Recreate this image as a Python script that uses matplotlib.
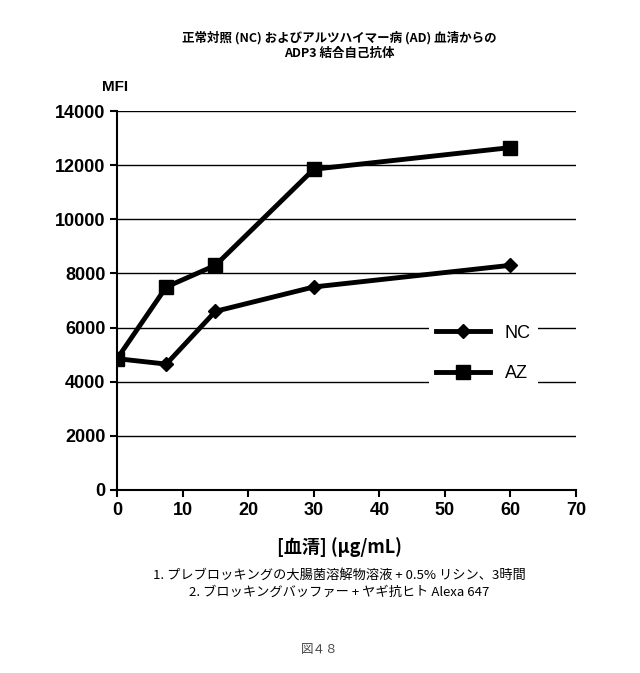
import matplotlib
matplotlib.use("Agg")
import matplotlib.pyplot as plt

plt.rcParams['font.family'] = ['Noto Sans CJK JP']
x = [0, 7.5, 15, 30, 60]
nc = [4850, 4650, 6600, 7500, 8300]
az = [4850, 7500, 8300, 11850, 12650]
yticks = list(range(0, 14001, 2000))
xticks = list(range(0, 71, 10))

fig = plt.figure(figsize=(6.4, 6.73), dpi=100)
ax = fig.add_axes([0.183, 0.272, 0.717, 0.563])
for t in yticks[1:]:
    ax.axhline(t, color='black', lw=1, zorder=0)
ax.plot(x, nc, color='black', lw=3.5, marker='D', ms=7, label='NC')
ax.plot(x, az, color='black', lw=3.5, marker='s', ms=10, label='AZ')
ax.set_xlim(0, 70); ax.set_ylim(0, 14000)
ax.set_xticks(xticks); ax.set_yticks(yticks)
ax.tick_params(labelsize=13, width=1.5, length=5)
for lab in ax.get_xticklabels() + ax.get_yticklabels():
    lab.set_fontfamily('Liberation Sans'); lab.set_fontweight('bold')
for s in ['top', 'right']:
    ax.spines[s].set_visible(False)
ax.spines['left'].set_linewidth(1.5); ax.spines['bottom'].set_linewidth(1.5)
leg = ax.legend(loc='center left', bbox_to_anchor=(0.66, 0.36), frameon=True,
                edgecolor='none', facecolor='white', framealpha=1,
                handlelength=3, labelspacing=1.3,
                prop={'family': 'Liberation Sans', 'size': 13})
fig.text(0.16, 0.865, 'MFI', fontsize=11, fontweight='bold', family='Liberation Sans')
fig.text(0.53, 0.938, '正常対照 (NC) およびアルツハイマー病 (AD) 血清からの', ha='center', fontsize=9, fontweight='bold')
fig.text(0.53, 0.915, 'ADP3 結合自己抗体', ha='center', fontsize=9, fontweight='bold')
fig.text(0.53, 0.178, '[血清] (μg/mL)', ha='center', fontsize=13, fontweight='bold')
fig.text(0.53, 0.138, '1. プレブロッキングの大腸菌溶解物溶液 + 0.5% リシン、3時間', ha='center', fontsize=9.5)
fig.text(0.53, 0.115, '2. ブロッキングバッファー + ヤギ抗ヒト Alexa 647', ha='center', fontsize=9.5)
fig.text(0.5, 0.03, '図４８', ha='center', fontsize=9, color='#444444')
fig.savefig('out.png', dpi=100)
